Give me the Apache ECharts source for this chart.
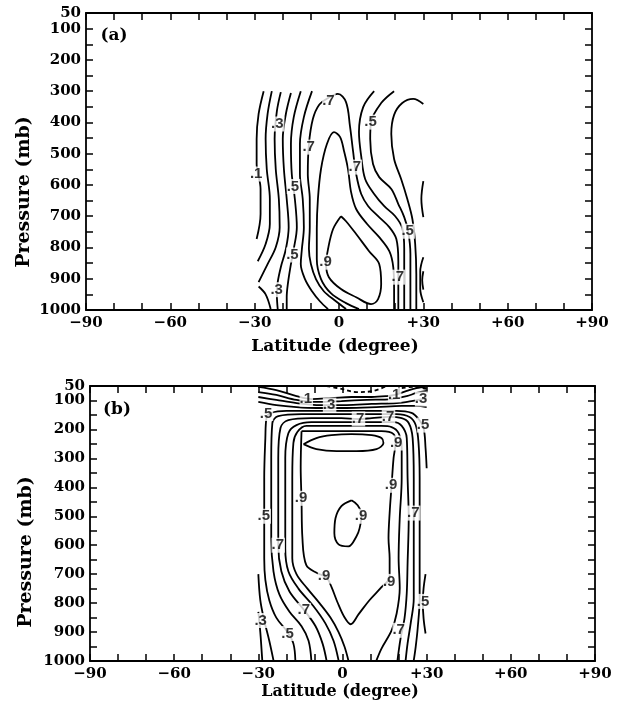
<!DOCTYPE html>
<html>
<head>
<meta charset="utf-8">
<script src="https://cdn.jsdelivr.net/npm/echarts@6/dist/echarts.min.js"></script>
<style>html,body{margin:0;padding:0;background:#fff;}#c{width:618px;height:705px;}</style>
</head>
<body>
<div id="c"></div>
<script>
// ---------- axis ticks ----------
const latTicks = [-90, -60, -30, 0, 30, 60, 90];
const presTicks = [50, 100, 200, 300, 400, 500, 600, 700, 800, 900, 1000];

// ---------- panel (a) contours: [latitude, pressure] ----------
const a01 = [[-26.8,300],[-28.6,373],[-29.3,453],[-29.3,533],[-27.9,613],[-27.9,693],[-29.3,773]];
const a02 = [[-23.9,300],[-25.4,373],[-26.1,453],[-25.7,549],[-24.6,645],[-24.6,725],[-26.1,789],[-28.9,844]];
const a03 = [[-20.7,303],[-22.1,364],[-22.9,453],[-22.5,549],[-21.4,645],[-21.1,735],[-22.5,799],[-25.4,853],[-28.6,911]];
const a03b = [[-28.6,925],[-26.1,950],[-24.3,997]];
const a04 = [[-17.1,306],[-18.9,373],[-20,453],[-19.6,549],[-18.6,645],[-17.9,735],[-18.9,805],[-20.7,863],[-21.8,911],[-22.1,952],[-21.8,997]];
const a05 = [[-13.6,300],[-16.1,383],[-17.1,469],[-16.8,565],[-15.7,645],[-15,735],[-16.1,805],[-17.1,853],[-18.2,917],[-18.6,959],[-18.6,997]];
const a06 = [[-9.6,300],[-12.5,383],[-13.9,469],[-13.9,565],[-12.9,645],[-12.5,735],[-13.2,805],[-13.6,853],[-12.1,901],[-9.6,940],[-6.8,972],[-3.9,997]];
const a07 = [[2.5,997],[-1.1,972],[-5.4,940],[-8.2,901],[-10,853],[-10.7,805],[-10.4,735],[-10.4,645],[-11.1,565],[-10.7,469],[-9.3,389],[-7.1,344],[-3.9,322],[-0.4,309],[2.5,335],[3.9,412],[5,492],[6.1,565],[7.9,629],[10.4,668],[13.9,700],[17.9,735],[20.4,773],[21.1,844],[21.1,917],[21.1,997]];
const a08 = [[7.1,997],[2.5,978],[-2.9,946],[-6.4,901],[-7.9,837],[-7.9,741],[-7.5,645],[-6.4,549],[-4.3,469],[-1.8,431],[0.4,447],[1.8,492],[3.2,549],[4.3,623],[6.1,677],[10,725],[14.3,767],[17.9,812],[19.3,863],[19.6,933],[19.6,997]];
const a09 = [[0.7,700],[-2.1,741],[-3.9,805],[-4.6,853],[-3.6,895],[0.7,933],[6.1,959],[11.4,981],[13.9,965],[15,917],[14.3,853],[10.7,812],[6.1,757],[2.5,716],[0.7,700]];
const a06r = [[12.5,300],[8.6,351],[7.1,431],[7.9,508],[9.3,581],[12.5,629],[16.1,668],[20,700],[22.5,738],[23.2,805],[23.2,901],[23.2,997]];
const a05r = [[19.6,300],[15,338],[11.4,399],[11.1,453],[12.1,533],[14.3,575],[18.6,613],[21.1,661],[23.2,703],[24.6,748],[25.4,821],[25.4,901],[25.4,997]];
const a04r = [[30,341],[26.4,325],[22.5,338],[19.6,376],[18.6,437],[19.6,517],[22.1,581],[24.3,645],[26.1,709],[27.1,789],[27.5,885],[27.5,997]];
const a03r = [[30,588],[29.3,645],[30,703]];
const a02r = [[30,831],[28.9,876],[28.9,933],[30,975]];
const a02s = [[30,876],[29.6,905],[30,935]];
const aLines = [a01,a02,a03,a03b,a04,a05,a06,a07,a08,a09,a06r,a05r,a04r,a03r,a02r,a02s];
const aLabels = [['.1',-29.3,565],['.3',-21.8,405],['.3',-22,935],['.5',-16.2,605],['.5',-16.4,824],['.7',-10.6,479],['.7',-3.6,330],['.7',5.8,543],['.5',11.4,399],['.5',24.6,748],['.9',-4.6,847],['.7',21.1,895]];

// ---------- panel (b) contours ----------
const b00 = [[-5.7,50],[-0.4,60],[5,71],[11.1,67],[15.7,50]];
const b00b = [[21.1,57],[25.4,53],[30,60]];
const b01 = [[-30,53],[-23.6,64],[-16.4,85],[-11.1,95],[-3.9,92],[3.2,88],[10.4,88],[15.7,85],[18.6,81],[22.9,67],[26.4,57],[30,53]];
const b02 = [[-30,71],[-23.6,81],[-16.4,98],[-9.3,105],[-0.4,102],[8.6,98],[17.5,95],[22.9,85],[26.4,74],[30,67]];
const b03 = [[-30,88],[-23.6,98],[-16.4,109],[-9.3,116],[1.4,116],[10.4,112],[19.3,109],[24.6,102],[30,92]];
const b04 = [[-30,105],[-23.6,116],[-16.4,123],[-9.3,126],[1.4,126],[12.1,123],[21.1,119],[26.4,119],[30,123]];
const b05 = [[-16.8,998],[-17.5,940],[-19.6,900],[-23.6,850],[-26.1,790],[-27.5,720],[-27.9,645],[-27.9,500],[-27.9,368],[-27.5,230],[-27.1,161],[-25.4,143],[-20,136],[-11.1,136],[-0.4,136],[10.4,136],[19.3,136],[24.6,143],[27.1,164],[28.9,195],[29.6,264],[30,334]];
const b06 = [[-11.1,998],[-12.1,930],[-14.6,880],[-18.9,830],[-22.5,770],[-24.6,690],[-25.4,576],[-25.4,438],[-25.4,299],[-25,178],[-22.9,154],[-14.6,147],[-0.4,147],[10.4,147],[19.3,147],[23.9,157],[26.1,185],[27.1,247],[27.5,368],[27.5,507],[27.5,662],[27.5,784],[26.8,887],[26.1,950],[25.4,998]];
const b07 = [[-5.7,998],[-7.1,940],[-9.6,880],[-13.6,825],[-18.9,760],[-21.8,690],[-22.9,600],[-22.9,438],[-22.9,299],[-22.1,195],[-19.3,168],[-11.1,161],[-0.4,161],[5.7,164],[10.4,161],[16.4,157],[21.1,161],[23.6,178],[25,230],[25.4,368],[25.4,489],[25.4,645],[25.4,784],[24.3,870],[23.2,939],[22.5,998]];
const b08a = [[-1.4,998],[-3.2,930],[-6.1,870],[-10.4,810],[-15.7,750],[-19.3,690],[-20.4,611],[-20.4,438],[-20.4,299],[-19.3,213],[-16.4,185],[-11.1,175],[-0.4,175],[10.4,175],[18.2,175],[21.1,188],[22.9,230],[23.2,368],[23.6,507],[23.2,662],[22.9,766],[22.1,853],[20.7,922],[19.6,998]];
const b08b = [[2.1,998],[0.7,950],[-1.4,900],[-4.3,850],[-8.2,800],[-12.5,750],[-16.4,700],[-17.9,645],[-17.9,507],[-17.9,368],[-17.5,247],[-16.1,209],[-12.9,188],[-3.9,188],[6.8,188],[13.9,188],[17.5,192],[20,213],[21.1,264],[21.1,368],[20.4,507],[20,645],[20.4,749],[19.3,836],[17.5,894],[13.9,957],[12.1,998]];
const b09 = [[-14.6,206],[-14.9,330],[-14.6,445],[-14.3,573],[-12.9,669],[-8.9,697],[-5.7,711],[-3.9,745],[-1.8,797],[0.7,849],[2.9,873],[5.7,839],[9.6,790],[13.9,745],[16.8,711],[16.8,645],[16.4,576],[16.8,489],[17.5,393],[18.2,299],[18.9,247],[18.2,216],[13.9,206],[-0.4,206],[-12.9,206],[-14.6,206]];
const bOval = [[-13.9,251],[-9.3,230],[-3.9,220],[3.2,216],[10.4,220],[13.9,230],[14.6,247],[12.1,268],[5,275],[-2.1,275],[-9.3,268],[-13.9,251]];
const bLoop = [[3.2,445],[-0.4,465],[-2.5,507],[-2.9,559],[-1.4,597],[2.1,604],[5,569],[6.1,541],[6.8,496],[5.4,462],[3.2,445]];
const b04L = [[-30,700],[-29.3,790],[-27.9,860],[-26.1,930],[-24.6,998]];
const b03L = [[-30,830],[-29.3,900],[-28.6,998]];
const b05R = [[29.6,700],[28.9,749],[28.6,794],[28.9,853],[29.6,905]];
const bLines = [b01,b02,b03,b04,b05,b06,b07,b08a,b08b,b09,bOval,bLoop,b04L,b03L,b05R];
const bDashed = [b00,b00b];
const bLabels = [['.1',-12.9,95],['.3',-4.6,116],['.1',18.6,81],['.3',28.2,95],['.5',28.9,185],['.7',5.7,164],['.7',16.4,157],['.5',-27.1,145],['.9',19.3,247],['.9',17.5,393],['.9',-14.6,438],['.9',6.8,500],['.5',-27.9,500],['.7',-22.9,600],['.7',25.4,489],['.9',-6.4,707],['.9',16.8,725],['.3',-29,860],['.7',-13.6,825],['.5',-19.4,905],['.5',28.9,794],['.7',20.2,894]];

// ---------- build chart ----------
const SERIF = '"DejaVu Serif", "Liberation Serif", serif';
const xFmt = v => latTicks.indexOf(v) < 0 ? '' : (v > 0 ? '+' + v : v < 0 ? '\u2212' + Math.abs(v) : '0');
const yFmtMain = v => (presTicks.indexOf(v) < 0 || v === presTicks[0]) ? '' : String(v);
const yFmtTop = v => v === presTicks[0] ? String(v) : '';
const axLine = {show: true, onZero: false, lineStyle: {color: '#000', width: 1.8}};
const tick = {show: true, inside: true, length: 7, lineStyle: {color: '#000', width: 1.5}};
const yLabelStyle = {interval: 0, hideOverlap: false, showMinLabel: true, showMaxLabel: true, color: '#000', fontFamily: SERIF, fontWeight: 'bold', fontSize: 15, margin: 5};

function xAxes(g) {
  return [
    {type: 'value', gridIndex: g, position: 'bottom', min: -90, max: 90, interval: 10,
     axisLine: axLine, axisTick: tick, splitLine: {show: false},
     axisLabel: {interval: 0, hideOverlap: false, formatter: xFmt, showMinLabel: true, showMaxLabel: true, color: '#000', fontFamily: SERIF, fontWeight: 'bold', fontSize: 15, margin: 6}},
    {type: 'value', gridIndex: g, position: 'top', min: -90, max: 90, interval: 10,
     axisLine: axLine, axisTick: tick, splitLine: {show: false}, axisLabel: {show: false}}
  ];
}
function yAxes(g) {
  return [
    {type: 'value', gridIndex: g, position: 'left', inverse: true, min: 50, max: 1000, interval: 50,
     axisLine: axLine, axisTick: tick, splitLine: {show: false},
     axisLabel: Object.assign({formatter: yFmtMain}, yLabelStyle)},
    {type: 'value', gridIndex: g, position: 'right', inverse: true, min: 50, max: 1000, interval: 50,
     axisLine: axLine, axisTick: tick, splitLine: {show: false}, axisLabel: {show: false}}
  ];
}
function yTopAxis(g) {
  return {type: 'value', gridIndex: g, position: 'left', inverse: true, min: 50, max: 1000, interval: 50,
    axisLine: {show: false, onZero: false}, axisTick: {show: false}, splitLine: {show: false},
    axisLabel: Object.assign({formatter: yFmtTop}, yLabelStyle)};
}
function lineSeries(data, g, dashed) {
  return {type: 'line', xAxisIndex: g * 2, yAxisIndex: g * 2, data: data, symbol: 'none', showSymbol: false,
    smooth: 0.35, silent: true, animation: false, z: 2,
    lineStyle: {color: '#000', width: 1.8, type: dashed ? [4, 3] : 'solid'}};
}
function labelSeries(labels, g) {
  return {type: 'scatter', xAxisIndex: g * 2, yAxisIndex: g * 2, symbolSize: 1, silent: true, animation: false, z: 5,
    itemStyle: {color: 'rgba(0,0,0,0)'},
    data: labels.map(l => [l[1], l[2], l[0]]),
    label: {show: true, position: 'inside', formatter: p => p.data[2], color: '#000',
      fontFamily: '"Liberation Sans", Arial, sans-serif', fontWeight: 'bold', fontSize: 15,
      backgroundColor: '#fff', padding: [0, 1, 0, 0]},
    labelLayout: {hideOverlap: false}};
}

const series = [];
aLines.forEach(d => series.push(lineSeries(d, 0, false)));
bLines.forEach(d => series.push(lineSeries(d, 1, false)));
bDashed.forEach(d => series.push(lineSeries(d, 1, true)));
series.push(labelSeries(aLabels, 0));
series.push(labelSeries(bLabels, 1));

const chart = echarts.init(document.getElementById('c'), null, {renderer: 'canvas'});
chart.setOption({
  animation: false,
  backgroundColor: '#fff',
  grid: [
    {left: 86, top: 13, width: 506, height: 297},
    {left: 90, top: 386, width: 505, height: 275}
  ],
  xAxis: xAxes(0).concat(xAxes(1)),
  yAxis: yAxes(0).concat(yAxes(1)).concat([yTopAxis(0), yTopAxis(1)]),
  series: series,
  graphic: [
    {type: 'text', x: 24, y: 192, rotation: Math.PI / 2, style: {text: 'Pressure (mb)', font: 'bold 19px ' + SERIF, fill: '#000', align: 'center', verticalAlign: 'middle'}},
    {type: 'text', x: 26, y: 552, rotation: Math.PI / 2, style: {text: 'Pressure (mb)', font: 'bold 19px ' + SERIF, fill: '#000', align: 'center', verticalAlign: 'middle'}},
    {type: 'text', x: 335, y: 347, style: {text: 'Latitude (degree)', font: 'bold 17px ' + SERIF, fill: '#000', align: 'center', verticalAlign: 'middle'}},
    {type: 'text', x: 340, y: 692, style: {text: 'Latitude (degree)', font: 'bold 16px ' + SERIF, fill: '#000', align: 'center', verticalAlign: 'middle'}},
    {type: 'text', x: 114, y: 36, style: {text: '(a)', font: 'bold 17px ' + SERIF, fill: '#000', align: 'center', verticalAlign: 'middle'}},
    {type: 'text', x: 117, y: 410, style: {text: '(b)', font: 'bold 17px ' + SERIF, fill: '#000', align: 'center', verticalAlign: 'middle'}}
  ]
});
</script>
</body>
</html>
